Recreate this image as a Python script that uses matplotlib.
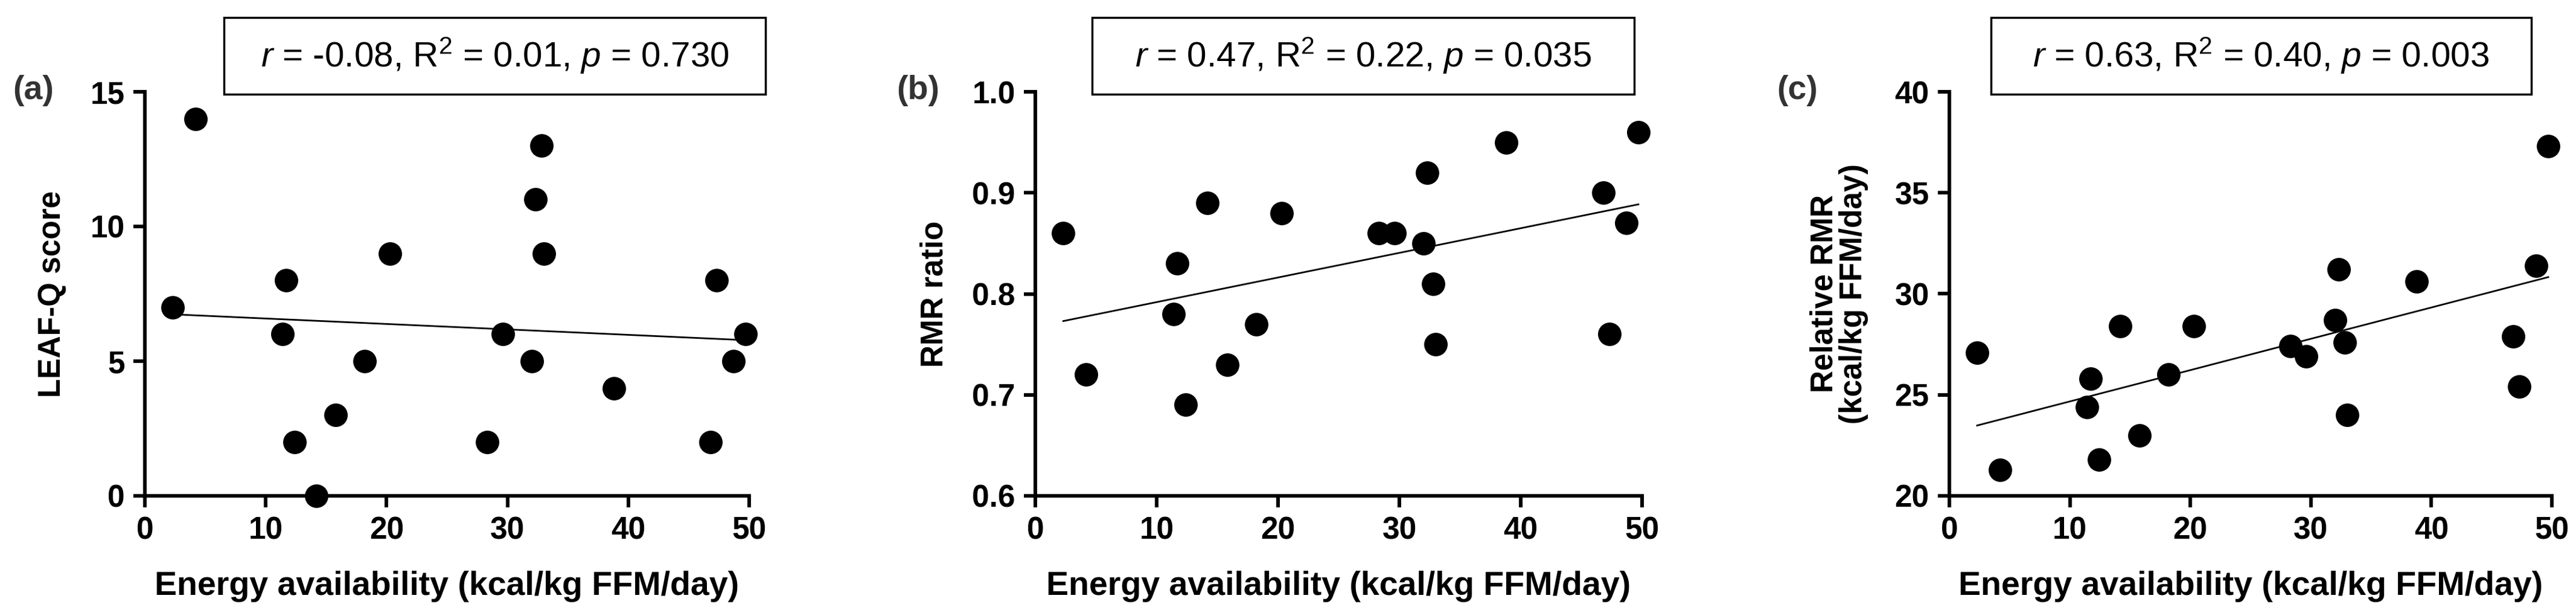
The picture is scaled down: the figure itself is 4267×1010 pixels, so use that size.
import matplotlib
matplotlib.use("Agg")
import matplotlib.pyplot as plt
from matplotlib.patches import Rectangle
import numpy as np

plt.rcParams["font.family"] = ["Liberation Sans Narrow", "Liberation Sans", "DejaVu Sans"]
plt.rcParams["mathtext.fontset"] = "custom"
plt.rcParams["mathtext.rm"] = "Liberation Sans"
plt.rcParams["mathtext.it"] = "Liberation Sans:italic"

# Energy availability (kcal/kg FFM/day), shared by all panels
ea = [2.3, 4.2, 11.7, 11.4, 12.4, 14.2, 15.8, 18.2, 20.3, 28.3,
      29.6, 32.0, 32.3, 32.8, 33.0, 38.8, 46.8, 47.3, 48.7, 49.7]
leafq = [7, 14, 8, 6, 2, 0, 3, 5, 9, 2, 6, 5, 11, 13, 9, 4, 2, 8, 5, 6]
rmr_ratio = [0.86, 0.72, 0.83, 0.78, 0.69, 0.89, 0.73, 0.77, 0.88, 0.86,
             0.86, 0.85, 0.92, 0.81, 0.75, 0.95, 0.90, 0.76, 0.87, 0.96]
rel_rmr = [27.1, 21.3, 25.8, 24.4, 21.8, 28.4, 23.0, 26.0, 28.4, 27.4,
           26.9, 28.7, 31.2, 27.6, 24.0, 30.6, 27.9, 25.4, 31.4, 37.3]

panels = [
    ("(a)", leafq, "LEAF-Q score", (0, 15), [0, 5, 10, 15], "{:.0f}",
     r"$\it{r}$ = -0.08, R$^2$ = 0.01, $\it{p}$ = 0.730"),
    ("(b)", rmr_ratio, "RMR ratio", (0.6, 1.0), [0.6, 0.7, 0.8, 0.9, 1.0], "{:.1f}",
     r"$\it{r}$ = 0.47, R$^2$ = 0.22, $\it{p}$ = 0.035"),
    ("(c)", rel_rmr, "Relative RMR\n(kcal/kg FFM/day)", (20, 40), [20, 25, 30, 35, 40], "{:.0f}",
     r"$\it{r}$ = 0.63, R$^2$ = 0.40, $\it{p}$ = 0.003"),
]

W, H = 4267, 1010
fig = plt.figure(figsize=(W / 100, H / 100), dpi=100)

# layout in pixels: axes left, width; box left, right; letter x; ylabel offset
ax_px = [(240, 1001), (1715, 1005), (3229, 998)]
box_px = [(371, 1268), (1809, 2707), (3298, 4193)]
letter_px = [55, 1521, 2977]
ylab_off = [-0.153, -0.166, -0.183]
top_px, bot_px = 152, 821

for i, (letter, yv, ylab, ylim, yt, fmt, stat) in enumerate(panels):
    l, w = ax_px[i]
    ax = fig.add_axes([l / W, 1 - bot_px / H, w / W, (bot_px - top_px) / H])
    ax.scatter(ea, yv, s=27 ** 2, color="black", zorder=3, clip_on=False)
    k, b = np.polyfit(ea, yv, 1)
    xs = np.array([min(ea), max(ea)])
    ax.plot(xs, k * xs + b, color="black", lw=2)
    ax.set_xlim(0, 50)
    ax.set_ylim(*ylim)
    ax.set_xticks([0, 10, 20, 30, 40, 50])
    ax.set_yticks(yt)
    ax.set_yticklabels([fmt.format(v) for v in yt])
    for s in ["top", "right"]:
        ax.spines[s].set_visible(False)
    for s in ["left", "bottom"]:
        ax.spines[s].set_linewidth(4.3)
    ax.tick_params(width=4.3, length=14, labelsize=37, pad=10)
    for t in ax.get_xticklabels() + ax.get_yticklabels():
        t.set_fontweight("bold")
    ax.set_xlabel("Energy availability (kcal/kg FFM/day)", fontsize=40, fontweight="bold")
    ax.xaxis.set_label_coords(0.5, -0.224)
    ax.xaxis.label.set_va("center")
    ax.set_ylabel(ylab, fontsize=37, fontweight="bold", linespacing=1.0)
    ax.yaxis.set_label_coords(ylab_off[i], 0.5)
    ax.yaxis.label.set_va("center")

    bl, br = box_px[i]
    fig.patches.append(Rectangle((bl / W, 1 - 156 / H), (br - bl) / W, 127 / H,
                                 transform=fig.transFigure, fill=False, lw=2.5, ec="black"))
    fig.text((bl + br) / 2 / W, 1 - 92 / H, stat, ha="center", va="center", fontsize=42)
    fig.text(letter_px[i] / W, 1 - 150 / H, letter, ha="center", va="center",
             fontsize=40, fontweight="bold", color="#333333")

fig.savefig("out.png", dpi=100)
